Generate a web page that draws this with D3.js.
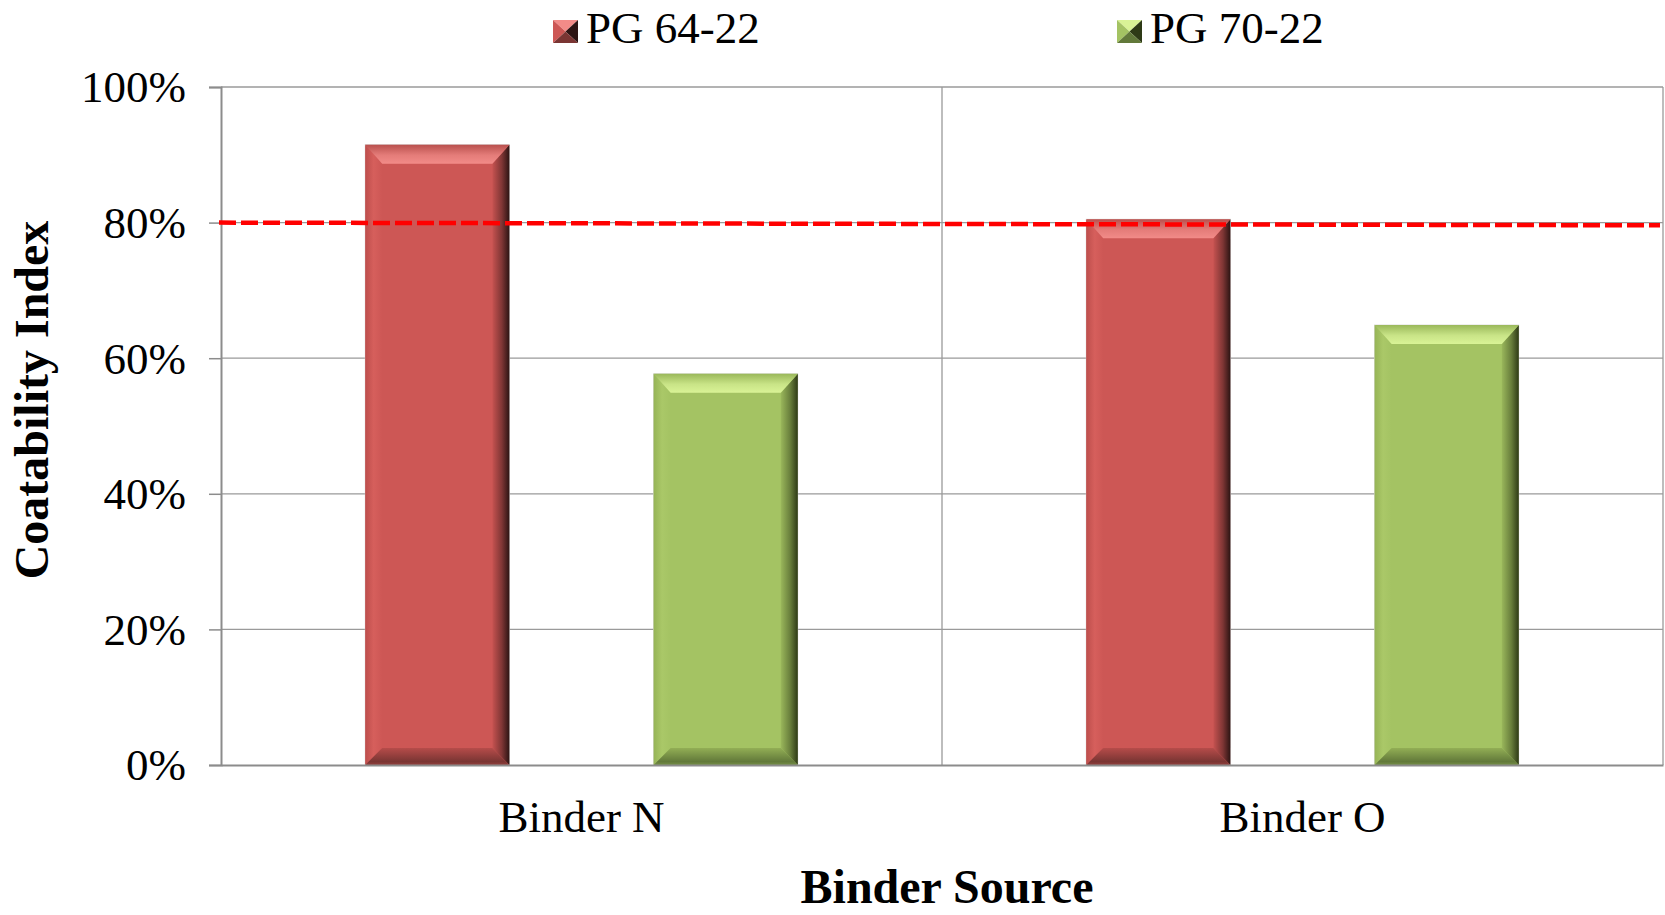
<!DOCTYPE html>
<html>
<head>
<meta charset="utf-8">
<script src="https://cdn.jsdelivr.net/npm/d3@7"></script>
<style>
  html, body { margin: 0; padding: 0; background: #fff; }
  svg { display: block; }
  text { font-family: "Liberation Serif", "Times New Roman", serif; fill: #000; }
</style>
</head>
<body>
<svg id="chart" width="1665" height="915"></svg>
<script>
// Coatability index by binder source and performance grade
const categories = ["Binder N", "Binder O"];
const series = ["PG 64-22", "PG 70-22"];
const pg6422 = [0.915, 0.805];
const pg7022 = [0.577, 0.649];
const yTicks = [0, 0.2, 0.4, 0.6, 0.8, 1.0];
// 80% threshold line (value at its left and right ends)
const thresholdLevels = [0.800, 0.796];

const seriesValues = { "PG 64-22": pg6422, "PG 70-22": pg7022 };

// bevel palettes per series
const palette = {
  "PG 64-22": { base: "#cd5755", topOuter: "#b9504d", topInner: "#f28b88",
                leftOuter: "#bd4e4c", leftInner: "#d65f5c",
                rightInner: "#c55250", rightOuter: "#2c1413",
                bottomInner: "#b64c4a", bottomOuter: "#7a3533" },
  "PG 70-22": { base: "#a4c363", topOuter: "#9ab85a", topInner: "#d9f396",
                leftOuter: "#96b456", leftInner: "#aac868",
                rightInner: "#9ab75b", rightOuter: "#2e3a16",
                bottomInner: "#92ae55", bottomOuter: "#62793a" }
};

const plot = { left: 221, right: 1663, top: 87, bottom: 765 };

const svg = d3.select("#chart");
const defs = svg.append("defs");

const y = d3.scaleLinear().domain([0, 1]).range([plot.bottom, plot.top]);
const x0 = d3.scaleBand().domain(categories).range([plot.left, plot.right]).paddingInner(0).paddingOuter(0);
const x1 = d3.scaleBand().domain(series).range([0, x0.bandwidth()]).paddingInner(0.5).paddingOuter(0.5);

// gradients for each bevel face
function grad(id, x1_, y1_, x2_, y2_, stops) {
  const g = defs.append("linearGradient").attr("id", id)
    .attr("x1", x1_).attr("y1", y1_).attr("x2", x2_).attr("y2", y2_);
  stops.forEach(s => g.append("stop").attr("offset", s[0]).attr("stop-color", s[1]));
}
series.forEach((s, i) => {
  const p = palette[s];
  grad("top" + i, 0, 0, 0, 1, [[0, p.topOuter], [0.55, d3.interpolateRgb(p.topOuter, p.topInner)(0.75)], [1, p.topInner]]);
  grad("left" + i, 0, 0, 1, 0, [[0, p.leftOuter], [0.5, p.leftInner], [1, p.base]]);
  grad("right" + i, 0, 0, 1, 0, [[0, p.rightInner], [0.55, d3.interpolateRgb(p.rightInner, p.rightOuter)(0.45)], [1, p.rightOuter]]);
  grad("bottom" + i, 0, 0, 0, 1, [[0, p.bottomInner], [0.8, p.bottomOuter], [1, d3.interpolateRgb(p.bottomOuter, p.base)(0.3)]]);
});

// horizontal gridlines
svg.append("g")
  .selectAll("line").data(yTicks.filter(t => t > 0)).join("line")
  .attr("x1", plot.left).attr("x2", plot.right)
  .attr("y1", d => y(d)).attr("y2", d => y(d))
  .attr("stroke", "#9a9a9a").attr("stroke-width", 1.3);

// vertical separators between categories and right border
const bounds = categories.map(c => x0(c)).slice(1).concat([plot.right]);
svg.append("g")
  .selectAll("line").data(bounds).join("line")
  .attr("x1", d => d).attr("x2", d => d)
  .attr("y1", plot.top).attr("y2", plot.bottom)
  .attr("stroke", "#9a9a9a").attr("stroke-width", 1.3);

// bars with bevelled edges
function bevelBar(g, x, yTop, w, h, si) {
  const d = 17, dt = 19;
  const p = palette[series[si]];
  const xR = x + w, yB = yTop + h;
  g.append("rect").attr("x", x).attr("y", yTop).attr("width", w).attr("height", h)
    .attr("fill", p.base).attr("stroke", "#d9d9d9").attr("stroke-width", 0.8);
  const poly = (pts, fill) => g.append("polygon")
    .attr("points", pts.map(q => q.join(",")).join(" ")).attr("fill", fill);
  poly([[x, yTop], [x + d, yTop + dt], [x + d, yB - d], [x, yB]], `url(#left${si})`);
  poly([[xR, yTop], [xR, yB], [xR - d, yB - d], [xR - d, yTop + dt]], `url(#right${si})`);
  poly([[x, yB], [x + d, yB - d], [xR - d, yB - d], [xR, yB]], `url(#bottom${si})`);
  poly([[x, yTop], [xR, yTop], [xR - d, yTop + dt], [x + d, yTop + dt]], `url(#top${si})`);
}

const barsG = svg.append("g");
categories.forEach((c, ci) => {
  series.forEach((s, si) => {
    const v = seriesValues[s][ci];
    const bx = x0(c) + x1(s);
    bevelBar(barsG, bx, y(v), x1.bandwidth(), y(0) - y(v), si);
  });
});

// y axis
const yAxis = svg.append("g").attr("transform", `translate(${plot.left},0)`)
  .call(d3.axisLeft(y).tickValues(yTicks).tickFormat(d3.format(".0%")).tickSize(12).tickPadding(23));
yAxis.select(".domain").attr("stroke", "#8c8c8c").attr("stroke-width", 2);
yAxis.selectAll(".tick line").attr("stroke", "#8c8c8c").attr("stroke-width", 1.5);
yAxis.selectAll(".tick text").attr("font-size", 45).attr("font-family", "Liberation Serif").attr("fill", "#000").attr("dy", "0.33em");

// x axis
const xAxis = svg.append("g").attr("transform", `translate(0,${plot.bottom})`)
  .call(d3.axisBottom(x0).tickSize(0).tickPadding(0));
xAxis.select(".domain").attr("stroke", "#8c8c8c").attr("stroke-width", 2);
xAxis.selectAll(".tick text").attr("font-size", 45).attr("font-family", "Liberation Serif")
  .attr("fill", "#000").attr("y", 67).attr("dy", 0);

// threshold dashed line
svg.append("line")
  .attr("x1", plot.left - 2).attr("x2", plot.right - 3)
  .attr("y1", y(thresholdLevels[0])).attr("y2", y(thresholdLevels[1]))
  .attr("stroke", "#ff0000").attr("stroke-width", 4.5)
  .attr("stroke-dasharray", "17,5");

// axis titles
svg.append("text").attr("x", 947).attr("y", 903).attr("text-anchor", "middle")
  .attr("font-size", 48).attr("font-weight", "bold").text("Binder Source");
svg.append("text").attr("transform", "translate(48,400) rotate(-90)").attr("text-anchor", "middle")
  .attr("font-size", 48).attr("font-weight", "bold").text("Coatability Index");

// legend
const legendX = [553, 1117];
series.forEach((s, i) => {
  const p = palette[s];
  const g = svg.append("g").attr("transform", `translate(${legendX[i]},20)`);
  const w = 25, h = 23, cx = w / 2, cy = h / 2;
  const tri = (pts, fill) => g.append("polygon").attr("points", pts.map(q => q.join(",")).join(" ")).attr("fill", fill);
  tri([[0, 0], [w, 0], [cx, cy]], p.topInner);
  tri([[0, 0], [cx, cy], [0, h]], p.base);
  tri([[w, 0], [w, h], [cx, cy]], p.rightOuter);
  tri([[0, h], [cx, cy], [w, h]], p.bottomOuter);
  g.append("text").attr("x", 33).attr("y", 23).attr("font-size", 45).text(s);
});
</script>
</body>
</html>
